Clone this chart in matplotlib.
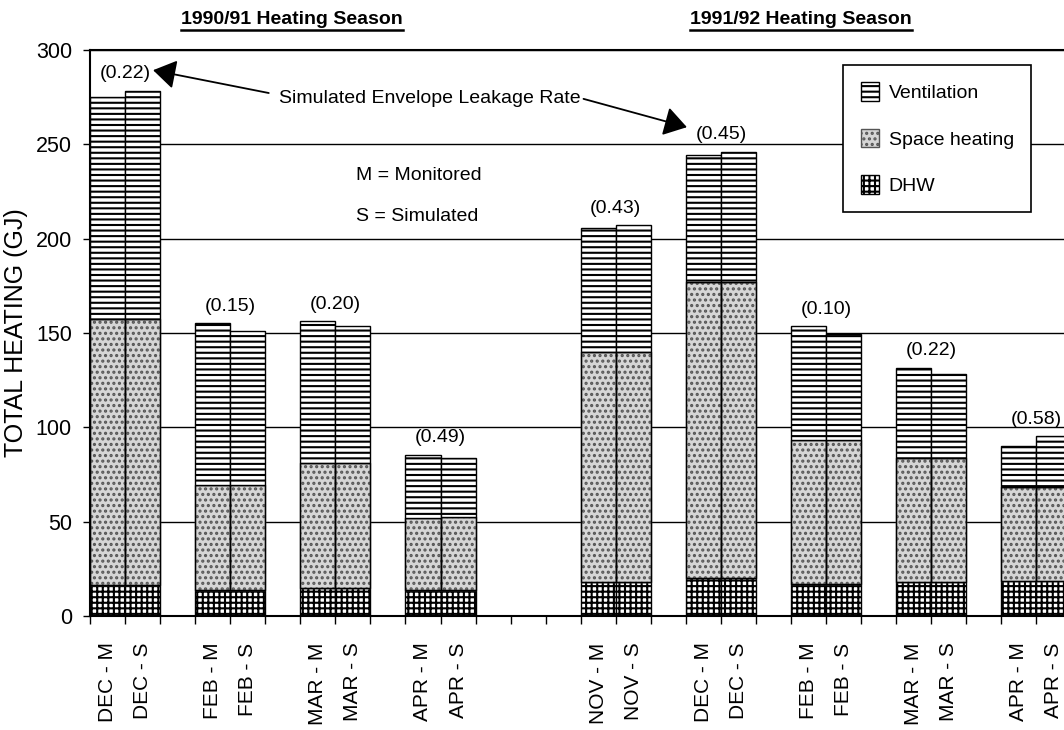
import matplotlib
matplotlib.use('Agg')
import matplotlib.pyplot as plt
from matplotlib.lines import Line2D
from matplotlib.patches import Patch
import numpy as np

plt.rcParams['font.family'] = ['Liberation Sans', 'DejaVu Sans']
plt.rcParams['hatch.linewidth'] = 1.5

# bar labels, two heating seasons
months_9091 = ['DEC', 'FEB', 'MAR', 'APR']
months_9192 = ['NOV', 'DEC', 'FEB', 'MAR', 'APR']
leakage = ['0.22', '0.15', '0.20', '0.49', '0.43', '0.45', '0.10', '0.22', '0.58']

# GJ per bar (M, S pairs in order)
dhw = [16.5, 16.5, 13.8, 13.8, 14.8, 14.8, 13.6, 13.6,
       18.1, 18.1, 20.2, 20.2, 16.7, 16.7, 17.9, 17.9, 18.5, 18.5]
space = [141.1, 141.1, 55.7, 55.7, 66.2, 66.2, 38.4, 39.1,
         121.7, 121.7, 156.8, 156.8, 76.5, 76.5, 66.0, 66.0, 50.1, 50.1]
vent = [117.3, 120.8, 85.8, 81.5, 75.3, 72.5, 33.5, 31.3,
        66.0, 67.2, 67.4, 69.0, 60.3, 56.4, 47.6, 44.5, 21.7, 26.8]

dhw = np.array(dhw)
space = np.array(space)
vent = np.array(vent)
total = dhw + space + vent

# slot layout: each month pair takes 2 slots + 1 gap, 3 extra gaps between seasons
pair_start = [3 * i for i in range(len(months_9091))] + \
             [14 + 3 * i for i in range(len(months_9192))]
xpos = []
labels = []
for start, m in zip(pair_start, months_9091 + months_9192):
    xpos += [start + 0.5, start + 1.5]
    labels += [m + ' - M', m + ' - S']
xpos = np.array(xpos)

SPACE_COL = '#d6d6d6'
SPACE_HATCH = '...'

fig = plt.figure(figsize=(10.64, 7.30), dpi=100)
ax = fig.add_axes([90 / 1064, 1 - 616 / 730, 974 / 1064, 566 / 730])

ax.bar(xpos, dhw, width=1, color='white', edgecolor='black', hatch='+++', linewidth=1, zorder=2)
ax.bar(xpos, space, width=1, bottom=dhw, color=SPACE_COL, edgecolor='#555555', hatch=SPACE_HATCH,
       linewidth=1, zorder=2)
# redraw the outline in black over the grey stipple
ax.bar(xpos, space, width=1, bottom=dhw, fill=False, edgecolor='black', linewidth=1, zorder=2)
ax.bar(xpos, vent, width=1, bottom=dhw + space, color='white', edgecolor='black', hatch='---',
       linewidth=1, zorder=2)

ax.set_xlim(0, 974 / 35.05)
ax.set_ylim(0, 300)
ax.set_yticks(range(0, 301, 50))
ax.yaxis.grid(True, color='black', linewidth=1)
ax.set_axisbelow(True)
ax.tick_params(axis='y', direction='out', length=5, width=1, labelsize=15.5, pad=8)

ax.set_xticks(xpos)
ax.set_xticklabels(labels, rotation=90, fontsize=15)
ax.set_xticks(np.arange(0, 28), minor=True)
ax.tick_params(axis='x', which='major', length=0, pad=19)
ax.tick_params(axis='x', which='minor', direction='out', length=6, width=1)

ax.spines['right'].set_visible(False)
for s in ['left', 'bottom', 'top']:
    ax.spines[s].set_linewidth(1.5)

ax.set_ylabel('TOTAL HEATING (GJ)', fontsize=18)
ax.yaxis.set_label_coords(-62 / 974, 0.5)

# leakage rate labels above each pair
for start, rate, i in zip(pair_start, leakage, range(len(leakage))):
    top = max(total[2 * i], total[2 * i + 1])
    ax.text(start + 1, top + 9, '(' + rate + ')', ha='center', va='center', fontsize=14)

ax.text(5.39, 274.5, 'Simulated Envelope Leakage Rate', ha='left', va='center', fontsize=14)
arrow = dict(arrowstyle='-|>,head_length=0.7,head_width=0.45', mutation_scale=20,
             color='black', lw=1.3, shrinkA=0, shrinkB=0)
ax.annotate('', xy=(1.80, 289.3), xytext=(5.10, 277.2), arrowprops=arrow)
ax.annotate('', xy=(17.03, 259.1), xytext=(14.08, 274.1), arrowprops=arrow)

ax.text(7.59, 233.7, 'M = Monitored', ha='left', va='center', fontsize=14)
ax.text(7.59, 212, 'S = Simulated', ha='left', va='center', fontsize=14)

handles = [Patch(facecolor='white', edgecolor='black', hatch='---', label='Ventilation'),
           Patch(facecolor=SPACE_COL, edgecolor='#555555', hatch=SPACE_HATCH, label='Space heating'),
           Patch(facecolor='white', edgecolor='black', hatch='+++', label='DHW')]
leg = ax.legend(handles=handles, loc='upper left', bbox_to_anchor=(843 / 1064, 1 - 65 / 730),
                bbox_transform=fig.transFigure, fontsize=14, handlelength=0.95, handleheight=1.1,
                handletextpad=0.5, labelspacing=1.35, borderpad=0.9, borderaxespad=0,
                fancybox=False, framealpha=1, edgecolor='black')
leg.get_frame().set_linewidth(1.2)

# season titles, bold + underlined
t1 = fig.text(292 / 1064, 1 - 20 / 730, '1990/91 Heating Season', ha='center', va='center',
              fontsize=14, fontweight='bold')
t2 = fig.text(801 / 1064, 1 - 20 / 730, '1991/92 Heating Season', ha='center', va='center',
              fontsize=14, fontweight='bold')
fig.canvas.draw()
for t in [t1, t2]:
    bb = t.get_window_extent().transformed(fig.transFigure.inverted())
    fig.add_artist(Line2D([bb.x0, bb.x1], [bb.y0 - 0.002, bb.y0 - 0.002], color='black',
                          linewidth=1.8, transform=fig.transFigure))

fig.savefig('out.png', dpi=100)
